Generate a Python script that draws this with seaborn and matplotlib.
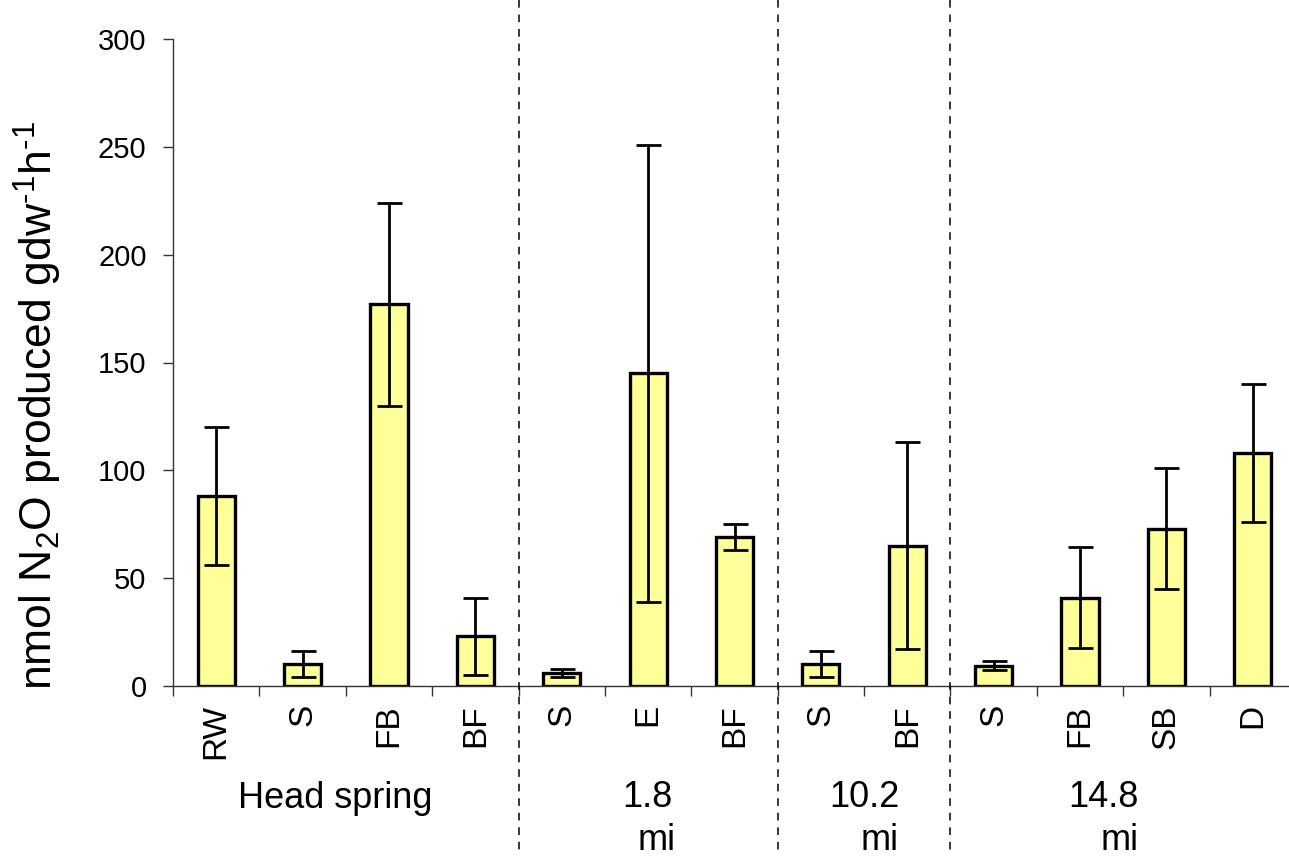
import numpy as np
import pandas as pd
import matplotlib
matplotlib.use("Agg")
import matplotlib.pyplot as plt
import seaborn as sns
from matplotlib.lines import Line2D
from matplotlib.transforms import blended_transform_factory

# Sampling sites along the spring run and their N2O production
sites = ["RW", "S", "FB", "BF", "S", "E", "BF", "S", "BF", "S", "FB", "SB", "D"]
groups = ["Head spring"] * 4 + ["1.8 mi"] * 3 + ["10.2 mi"] * 2 + ["14.8 mi"] * 4
n2o_mean = [88, 10, 177, 23, 6, 145, 69, 10, 65, 9.5, 41, 73, 108]
n2o_err = [32, 6, 47, 18, 2, 106, 6, 6, 48, 2, 23.5, 28, 32]
y_ticks = [0, 50, 100, 150, 200, 250, 300]

df = pd.DataFrame({"pos": np.arange(len(sites)), "site": sites,
                   "group": groups, "mean": n2o_mean, "err": n2o_err})

sns.set_theme(style="ticks")
plt.rcParams["font.family"] = ["Liberation Sans", "DejaVu Sans"]
plt.rcParams["mathtext.fontset"] = "custom"
plt.rcParams["mathtext.rm"] = "Liberation Sans"
plt.rcParams["mathtext.it"] = "Liberation Sans:italic"
plt.rcParams["mathtext.default"] = "regular"
for key in ("text.color", "axes.labelcolor", "xtick.labelcolor", "ytick.labelcolor"):
    plt.rcParams[key] = "black"

W, H = 1289, 856
fig = plt.figure(figsize=(W / 100, H / 100), dpi=100)
x0, x1, y0, y1 = 173, 1296, 686, 39
ax = fig.add_axes([x0 / W, 1 - y0 / H, (x1 - x0) / W, (y0 - y1) / H])

sns.barplot(data=df, x="pos", y="mean", color="#FFFF99", saturation=1,
            edgecolor="black", linewidth=2.4, width=0.43, errorbar=None, ax=ax)
ax.errorbar(df["pos"], df["mean"], yerr=df["err"], fmt="none",
            ecolor="black", elinewidth=2.0, capsize=9, capthick=2.0, zorder=5)

ax.set_xlim(-0.5, len(sites) - 0.5)
ax.set_ylim(0, 300)
ax.set_yticks(y_ticks)
ax.set_yticklabels([str(v) for v in y_ticks], fontsize=21)
ax.set_xticks(df["pos"])
ax.set_xticklabels(sites, rotation=90, fontsize=24, va="top")
ax.set_xticks(np.arange(-0.5, len(sites), 1), minor=True)
ax.tick_params(axis="x", which="major", length=0, pad=13)
ax.tick_params(axis="x", which="minor", length=7, width=1, color="#333333", direction="out")
ax.tick_params(axis="y", length=7, width=1, color="#333333", direction="out", pad=12)
ax.set_xlabel("")
ax.set_ylabel("")
for side in ("top", "right"):
    ax.spines[side].set_visible(False)
for side in ("left", "bottom"):
    ax.spines[side].set_color("#333333")
    ax.spines[side].set_linewidth(1)

# Dashed separators between the sampling reaches, spanning the full figure height
trans = blended_transform_factory(ax.transData, fig.transFigure)
for b in (3.5, 6.5, 8.5):
    fig.add_artist(Line2D([b, b], [1.0, 0.0], transform=trans, color="black",
                          lw=1.1, linestyle=(0, (5, 4.5))))

# Reach labels under the site names
def fy(py):
    return 1 - py / H

gl = dict(transform=trans, fontsize=26, ha="center", va="baseline")
fig.text(1.38, fy(808), "Head spring", **gl)
fig.text(4.99, fy(807), "1.8", **gl)
fig.text(5.10, fy(850), "mi", **gl)
fig.text(7.50, fy(807), "10.2", **gl)
fig.text(7.68, fy(850), "mi", **gl)
fig.text(10.27, fy(807), "14.8", **gl)
fig.text(10.46, fy(850), "mi", **gl)

fig.text(38 / W, fy(405), r"nmol N$_2$O produced gdw$^{\text{-}1}$h$^{\text{-}1}$",
         rotation=90, ha="center", va="center", fontsize=32)

fig.savefig("out.png", dpi=100)
